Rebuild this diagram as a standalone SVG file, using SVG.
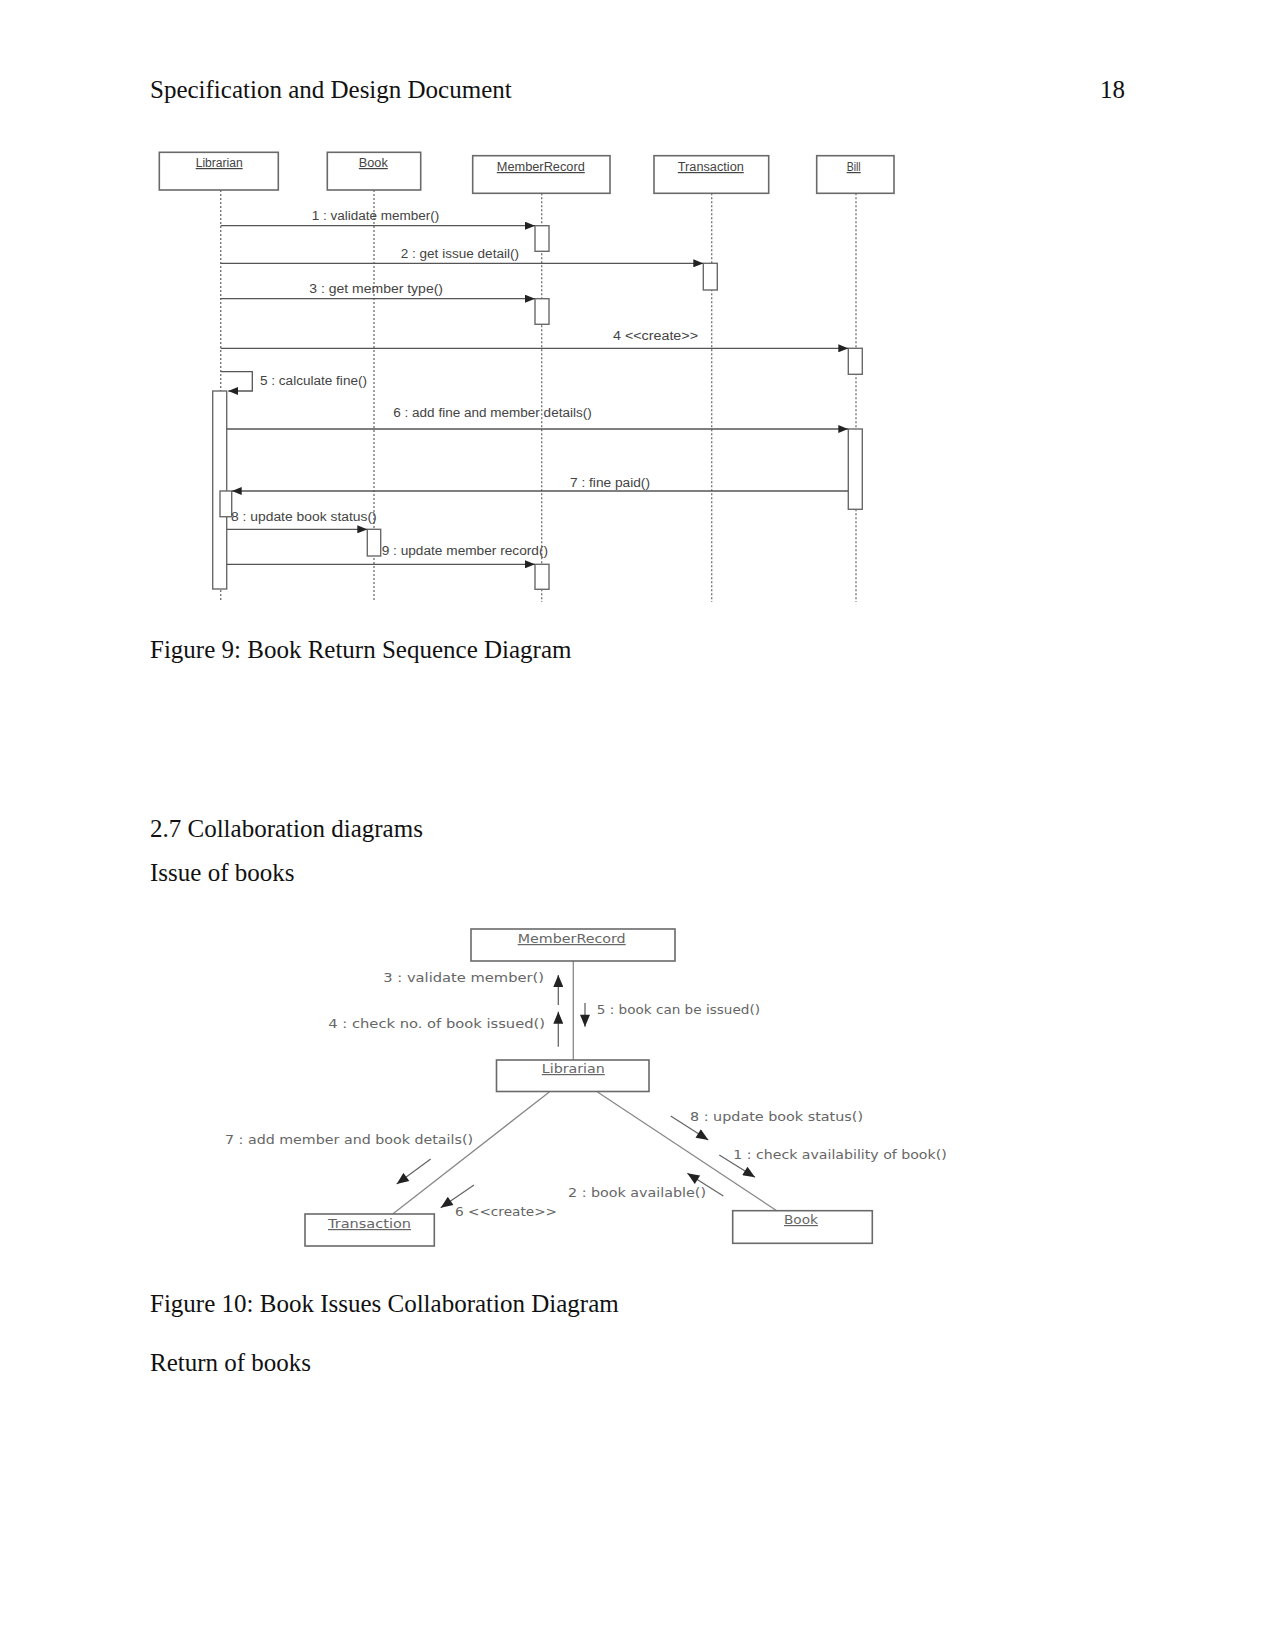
<svg xmlns="http://www.w3.org/2000/svg" width="1275" height="1650" viewBox="0 0 1275 1650">
<defs>
<style>
.doc{font-family:"Liberation Serif","Times New Roman",serif;font-size:25px;fill:#111}
.box{fill:#fff;stroke:#6a6a6a;stroke-width:1.6}
.act{fill:#fff;stroke:#6a6a6a;stroke-width:1.4}
.life{stroke:#777;stroke-width:1.4;stroke-dasharray:2,2;fill:none}
.msg{stroke:#555;stroke-width:1.3;fill:none}
.slab{font-family:"Liberation Sans",Arial,sans-serif;font-size:12px;fill:#444}
.clab{font-family:"DejaVu Sans",Verdana,sans-serif;font-size:12px;fill:#666}
.name{text-decoration:underline}
.cl{stroke:#888;stroke-width:1.3;fill:none}
.carr{stroke:#666;stroke-width:1.3;fill:none}
</style>
<marker id="ah" viewBox="0 0 10 8" refX="10" refY="4" markerWidth="10" markerHeight="8" markerUnits="userSpaceOnUse" orient="auto">
<path d="M0,0 L10,4 L0,8 Z" fill="#222"/>
</marker>
<marker id="ch" viewBox="0 0 12 10" refX="12" refY="5" markerWidth="13" markerHeight="10" markerUnits="userSpaceOnUse" orient="auto">
<path d="M0,0 L12,5 L0,10 Z" fill="#222"/>
</marker>
</defs>

<g id="page-text">
<text class="doc" x="150" y="98">Specification and Design Document</text>
<text class="doc" x="1125" y="98" text-anchor="end">18</text>
<text class="doc" x="150" y="658">Figure 9: Book Return Sequence Diagram</text>
<text class="doc" x="150" y="837">2.7 Collaboration diagrams</text>
<text class="doc" x="150" y="881">Issue of books</text>
<text class="doc" x="150" y="1312">Figure 10: Book Issues Collaboration Diagram</text>
<text class="doc" x="150" y="1371">Return of books</text>
</g>

<!-- Sequence diagram -->
<g id="seq-lifelines">
<line class="life" x1="220.7" y1="190" x2="220.7" y2="602"/>
<line class="life" x1="374" y1="190" x2="374" y2="602"/>
<line class="life" x1="541.7" y1="193.3" x2="541.7" y2="602"/>
<line class="life" x1="711.7" y1="193.3" x2="711.7" y2="602"/>
<line class="life" x1="856" y1="193.3" x2="856" y2="602"/>
</g>

<g id="seq-librarian">
<rect class="box" x="159.3" y="152.3" width="119" height="37.7"/>
<text class="slab name" x="219.2" y="167" text-anchor="middle" textLength="47" lengthAdjust="spacingAndGlyphs">Librarian</text>
<rect class="act" x="212.7" y="391" width="14" height="198"/>
<rect class="act" x="220" y="491" width="11.7" height="25.7"/>
</g>
<g id="seq-book">
<rect class="box" x="327.3" y="152.3" width="93.4" height="37.7"/>
<text class="slab name" x="373.3" y="167" text-anchor="middle" textLength="29" lengthAdjust="spacingAndGlyphs">Book</text>
<rect class="act" x="367.3" y="529.3" width="13.4" height="26.7"/>
</g>
<g id="seq-memberrecord">
<rect class="box" x="472.7" y="155.7" width="137.3" height="37.6"/>
<text class="slab name" x="540.8" y="171" text-anchor="middle" textLength="88" lengthAdjust="spacingAndGlyphs">MemberRecord</text>
<rect class="act" x="535" y="225.7" width="14" height="25.6"/>
<rect class="act" x="535" y="298.7" width="14" height="25.6"/>
<rect class="act" x="535" y="564.3" width="14" height="25"/>
</g>
<g id="seq-transaction">
<rect class="box" x="654" y="155.7" width="114.7" height="37.6"/>
<text class="slab name" x="710.8" y="171" text-anchor="middle" textLength="66" lengthAdjust="spacingAndGlyphs">Transaction</text>
<rect class="act" x="703.3" y="263.3" width="14" height="26.7"/>
</g>
<g id="seq-bill">
<rect class="box" x="816.7" y="155.7" width="77.3" height="37.6"/>
<text class="slab name" x="853.7" y="171" text-anchor="middle" textLength="14" lengthAdjust="spacingAndGlyphs">Bill</text>
<rect class="act" x="848.3" y="348.3" width="14" height="26"/>
<rect class="act" x="848.3" y="429" width="14" height="80.3"/>
</g>

<g id="seq-messages">
<line class="msg" x1="220.7" y1="225.7" x2="535" y2="225.7" marker-end="url(#ah)"/>
<text class="slab" x="311.7" y="220" textLength="127.6" lengthAdjust="spacingAndGlyphs">1 : validate member()</text>
<line class="msg" x1="220.7" y1="263.3" x2="703.3" y2="263.3" marker-end="url(#ah)"/>
<text class="slab" x="400.7" y="258" textLength="118.3" lengthAdjust="spacingAndGlyphs">2 : get issue detail()</text>
<line class="msg" x1="220.7" y1="298.7" x2="535" y2="298.7" marker-end="url(#ah)"/>
<text class="slab" x="309.3" y="293" textLength="133.7" lengthAdjust="spacingAndGlyphs">3 : get member type()</text>
<line class="msg" x1="220.7" y1="348.3" x2="848.3" y2="348.3" marker-end="url(#ah)"/>
<text class="slab" x="613" y="340" textLength="85" lengthAdjust="spacingAndGlyphs">4 &lt;&lt;create&gt;&gt;</text>
<polyline class="msg" points="220.7,371.7 252.3,371.7 252.3,391 228.3,391" marker-end="url(#ah)"/>
<text class="slab" x="260" y="385" textLength="107" lengthAdjust="spacingAndGlyphs">5 : calculate fine()</text>
<line class="msg" x1="226.7" y1="429" x2="848.3" y2="429" marker-end="url(#ah)"/>
<text class="slab" x="393.3" y="417" textLength="198.4" lengthAdjust="spacingAndGlyphs">6 : add fine and member details()</text>
<line class="msg" x1="848.3" y1="491" x2="231.7" y2="491" marker-end="url(#ah)"/>
<text class="slab" x="570" y="487" textLength="80" lengthAdjust="spacingAndGlyphs">7 : fine paid()</text>
<line class="msg" x1="226.7" y1="529.3" x2="367.3" y2="529.3" marker-end="url(#ah)"/>
<text class="slab" x="231" y="521" textLength="145.7" lengthAdjust="spacingAndGlyphs">8 : update book status()</text>
<line class="msg" x1="226.7" y1="564.3" x2="535" y2="564.3" marker-end="url(#ah)"/>
<text class="slab" x="381.7" y="555" textLength="166.3" lengthAdjust="spacingAndGlyphs">9 : update member record()</text>
</g>

<!-- Collaboration diagram -->
<g id="collab-links">
<line class="cl" x1="573.3" y1="961" x2="573.3" y2="1060"/>
<line class="cl" x1="549.3" y1="1092" x2="392.7" y2="1214"/>
<line class="cl" x1="597.5" y1="1092" x2="776.7" y2="1210.7"/>
</g>

<g id="col-memberrecord">
<rect class="box" x="471" y="929" width="204" height="32"/>
<text class="clab name" x="571.7" y="943" text-anchor="middle" textLength="108" lengthAdjust="spacingAndGlyphs">MemberRecord</text>
</g>
<g id="col-librarian">
<rect class="box" x="496.5" y="1060" width="152.5" height="31.5"/>
<text class="clab name" x="573.3" y="1073" text-anchor="middle" textLength="63" lengthAdjust="spacingAndGlyphs">Librarian</text>
</g>
<g id="col-transaction">
<rect class="box" x="305" y="1214" width="129.3" height="32"/>
<text class="clab name" x="369.5" y="1228" text-anchor="middle" textLength="83" lengthAdjust="spacingAndGlyphs">Transaction</text>
</g>
<g id="col-book">
<rect class="box" x="732.7" y="1210.7" width="139.6" height="32.6"/>
<text class="clab name" x="801" y="1224" text-anchor="middle" textLength="34" lengthAdjust="spacingAndGlyphs">Book</text>
</g>

<g id="collab-messages">
<line class="carr" x1="558.3" y1="1005" x2="558.3" y2="975" marker-end="url(#ch)"/>
<text class="clab" x="383.3" y="982" textLength="160.7" lengthAdjust="spacingAndGlyphs">3 : validate member()</text>
<line class="carr" x1="558.3" y1="1046.7" x2="558.3" y2="1011.7" marker-end="url(#ch)"/>
<text class="clab" x="328.3" y="1028" textLength="216.7" lengthAdjust="spacingAndGlyphs">4 : check no. of book issued()</text>
<line class="carr" x1="585" y1="1003" x2="585" y2="1026.7" marker-end="url(#ch)"/>
<text class="clab" x="596.7" y="1014" textLength="163.3" lengthAdjust="spacingAndGlyphs">5 : book can be issued()</text>
<line class="carr" x1="430.7" y1="1159" x2="396.7" y2="1184" marker-end="url(#ch)"/>
<text class="clab" x="225" y="1144" textLength="248" lengthAdjust="spacingAndGlyphs">7 : add member and book details()</text>
<line class="carr" x1="474" y1="1185" x2="440.7" y2="1207.7" marker-end="url(#ch)"/>
<text class="clab" x="455" y="1216" textLength="102" lengthAdjust="spacingAndGlyphs">6 &lt;&lt;create&gt;&gt;</text>
<line class="carr" x1="670.7" y1="1116" x2="708.3" y2="1140" marker-end="url(#ch)"/>
<text class="clab" x="690" y="1121" textLength="173" lengthAdjust="spacingAndGlyphs">8 : update book status()</text>
<line class="carr" x1="719.3" y1="1155" x2="755" y2="1177.3" marker-end="url(#ch)"/>
<text class="clab" x="733.3" y="1159" textLength="213.4" lengthAdjust="spacingAndGlyphs">1 : check availability of book()</text>
<line class="carr" x1="723.3" y1="1196" x2="687.3" y2="1173.3" marker-end="url(#ch)"/>
<text class="clab" x="568" y="1197" textLength="138" lengthAdjust="spacingAndGlyphs">2 : book available()</text>
</g>
</svg>
